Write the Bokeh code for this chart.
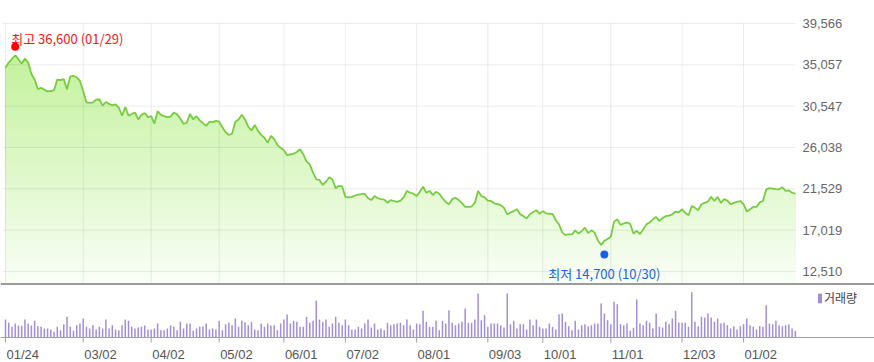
import numpy as np
from bokeh.plotting import figure
from bokeh.models import Range1d, Span, Legend, LegendItem
from bokeh.core.properties import value
from bokeh.embed import file_html
from bokeh.resources import INLINE

# ---------------- data ----------------
price = [
    34750, 35300, 35700, 36100, 35650, 35200, 35750, 35300, 34050, 33450,
    32400, 32550, 32350, 32150, 32200, 32300, 33450, 33400, 33500, 32400,
    33800, 33850, 33700, 33300, 32200, 30950, 30900, 30950, 31250, 31300,
    30600, 31000, 30800, 30650, 30750, 30400, 29500, 30450, 29500, 29700,
    29850, 29100, 29600, 29800, 29350, 29450, 28650, 30000, 29600, 29450,
    29350, 29400, 29850, 29650, 29200, 28600, 28750, 29700, 29100, 29450,
    29000, 28700, 28400, 28850, 28800, 28950, 28850, 28250, 27700, 27400,
    27550, 28850, 29100, 29600, 29100, 28300, 27900, 28500, 27850, 27400,
    27100, 26550, 27300, 26950, 26300, 26000, 25750, 25200, 25300, 25350,
    25550, 25850, 25300, 24500, 24200, 23300, 22550, 22500, 21950, 22300,
    22800, 22550, 21600, 21850, 21800, 20650, 20600, 20650, 20800, 20900,
    20950, 21000, 20500, 20300, 20750, 20500, 20400, 20350, 20000, 20300,
    20200, 20100, 20250, 20600, 21300, 21100, 21000, 20750, 21200, 21750,
    21100, 21300, 20850, 21200, 21000, 20500, 20100, 19850, 20400, 20550,
    20300, 20000, 19550, 19550, 19600, 20000, 21300, 20750, 20600, 20250,
    20200, 19950, 19850, 19750, 19450, 18750, 18950, 19100, 19300, 18750,
    18550, 18300, 18750, 19000, 19200, 18800, 19100, 18850, 18800, 18800,
    18100, 17650, 16750, 16500, 16550, 16550, 17000, 16650, 16900, 17300,
    16700, 17000, 16750, 15900, 15400, 15850, 16050, 16300, 17950, 18200,
    17600, 17750, 17850, 17700, 16650, 16950, 16600, 17100, 17650, 17850,
    18200, 18450, 18000, 18350, 18550, 18600, 18750, 19050, 18950, 19300,
    18900, 18650, 19650, 19450, 19200, 19850, 20000, 20150, 20650, 20200,
    20650, 20000, 20400, 20250, 19850, 20000, 20100, 20200, 19850, 19050,
    19300, 19550, 19550, 20050, 20200, 21450, 21600, 21550, 21500, 21480,
    21700, 21300, 21350, 21100, 21000,
]

# volume (thousand shares)
volume = [
    360, 294, 214, 280, 240, 234, 360, 280, 240, 334,
    226, 214, 180, 180, 160, 114, 214, 146, 260, 414,
    214, 134, 246, 280, 380, 214, 180, 246, 160, 214,
    180, 360, 180, 246, 160, 146, 246, 360, 334, 214,
    180, 200, 214, 240, 160, 160, 180, 280, 146, 146,
    180, 246, 214, 146, 314, 180, 280, 280, 134, 180,
    214, 220, 280, 160, 180, 160, 334, 146, 266, 294,
    246, 380, 214, 334, 306, 246, 314, 160, 146, 280,
    214, 280, 240, 246, 146, 280, 360, 460, 280, 334,
    314, 214, 214, 414, 294, 334, 734, 360, 314, 360,
    214, 280, 414, 294, 246, 360, 246, 160, 160, 214,
    180, 280, 360, 200, 280, 160, 180, 146, 294, 246,
    266, 280, 294, 246, 360, 246, 160, 280, 266, 534,
    314, 214,
    214, 334, 146, 334, 280, 546, 294, 246, 280, 314,
    580, 294, 294, 360, 880, 346, 446, 214, 280, 280,
    280, 246, 200, 880, 266, 334, 180, 266, 266, 160,
    360, 246, 360, 214, 180, 180, 280, 214, 160, 466,
    480, 314, 226, 146, 334, 160, 246, 266, 226, 246,
    280, 280, 680, 480, 346, 266, 714, 666, 266, 246,
    280, 134, 194, 760, 280, 246, 334, 294, 180, 480,
    214, 200, 314, 266, 380, 534, 294, 294, 294, 214,
    906, 314, 226, 414, 400, 480, 400, 314, 380, 280,
    294, 246, 180, 226, 160, 226, 266, 380, 246, 214,
    160, 226, 214, 646, 280, 266, 334, 246, 226, 246,
    266, 180, 134,
]

date_idx = [0, 24, 45, 66, 86, 105, 127, 149, 166, 187, 209, 228]
date_labels = ["01/24", "03/02", "04/02", "05/02", "06/01", "07/02",
               "08/01", "09/03", "10/01", "11/01", "12/03", "01/02"]
price_ticks = [12510, 17019, 21529, 26038, 30547, 35057, 39566]

hi_idx, hi_value, hi_date = 3, 36600, "01/29"
lo_idx, lo_value, lo_date = 185, 14700, "10/30"

# ---------------- layout constants (screen geometry) ----------------
FONT = "Liberation Sans"
KFONT = "Noto Sans CJK KR"
W, H = 874, 362
PX0 = 5.0            # screen x of the first trading day
S = 3.237            # px per trading day
PRICE_RIGHT = (795 - PX0) / S     # right edge of the price panel, in day units
GRID_LEFT = (2 - PX0) / S

P_TOP_PX = 23        # screen y of top price tick
P_BOT_PX = 283       # screen y of price panel bottom
YPP = 109.1          # price units per px
Y_TOP = price_ticks[-1]
Y_BOT = Y_TOP - (P_BOT_PX - P_TOP_PX) * YPP

V_BASE_PX = 337      # screen y of volume baseline
VPP = 20             # volume units per px

LINE = "#77cc3f"
VOL = "#a28dd8"
GRID = "#000000"

idx = np.arange(len(price))
price_arr = np.array(price, dtype=float)

p = figure(width=W, height=H, output_backend="svg", toolbar_location=None,
           x_range=Range1d(-PX0 / S, (W - PX0) / S),
           y_range=Range1d(Y_TOP - (H - P_TOP_PX) * YPP, Y_TOP + P_TOP_PX * YPP),
           x_axis_location=None, y_axis_location=None,
           min_border_left=0, min_border_right=0, min_border_top=0, min_border_bottom=0,
           outline_line_color=None)
p.extra_y_ranges = {"vol": Range1d(-(H - V_BASE_PX) * VPP, V_BASE_PX * VPP)}
for g in p.xgrid + p.ygrid:
    g.visible = False

# gradient fill under the price line
top_rgb = np.array([188, 240, 145], dtype=float)
bot_rgb = np.array([250, 254, 247], dtype=float)
for t in np.linspace(Y_TOP, Y_BOT, 70, endpoint=False):
    f = (t - Y_BOT) / (Y_TOP - Y_BOT)
    c = bot_rgb + (top_rgb - bot_rgb) * f
    col = "#%02x%02x%02x" % tuple(int(round(v)) for v in c)
    p.varea(x=idx, y1=Y_BOT, y2=np.minimum(price_arr, t), fill_color=col, level="image")

# grid lines of the price panel
p.segment(x0=GRID_LEFT, y0=price_ticks, x1=PRICE_RIGHT, y1=price_ticks,
          line_color=GRID, line_alpha=0.075, line_width=1)
p.segment(x0=date_idx, y0=Y_BOT, x1=date_idx, y1=Y_TOP,
          line_color=GRID, line_alpha=0.075, line_width=1)

# price line
p.line(idx, price, line_color=LINE, line_width=1.8)

# price tick labels (right side)
p.text(x=PRICE_RIGHT, y=price_ticks, text=[f"{v:,}" for v in price_ticks],
       x_offset=7, text_align="left", text_baseline="middle", text_color="#666666",
       text_font=value(FONT), text_font_size="13px")

# high / low markers
p.scatter([hi_idx], [hi_value + 4 * YPP], size=8, fill_color="#ff0000", line_color=None)
p.text([hi_idx], [hi_value], text=[f"최고 {hi_value:,} ({hi_date})"],
       x_offset=-4, y_offset=-12.5, text_align="left", text_baseline="alphabetic",
       text_color="#f01818", text_font=value(KFONT), text_font_size="13px")
p.scatter([lo_idx], [lo_value - 3 * YPP], size=8, fill_color="#1763e6", line_color=None)
p.text([lo_idx], [lo_value], text=[f"최저 {lo_value:,} ({lo_date})"],
       x_offset=0, y_offset=22, text_align="center", text_baseline="alphabetic",
       text_color="#1a66d9", text_font=value(KFONT), text_font_size="13px")

# separator under the price panel
p.add_layout(Span(location=Y_BOT - 0.5 * YPP, dimension="width",
                  line_color="#9b9b9b", line_width=2))

# volume bars
vb = p.vbar(x=idx, top=volume, bottom=0, width=0.46, fill_color=VOL, line_color=None,
            y_range_name="vol")

# volume baseline + date ticks + date labels
p.add_layout(Span(location=0, dimension="width", y_range_name="vol",
                  line_color="#a0a0a0", line_width=1))
p.segment(x0=date_idx, y0=0, x1=date_idx, y1=-5 * VPP, y_range_name="vol",
          line_color="#a0a0a0", line_width=1)
p.text(x=date_idx, y=0, text=date_labels, x_offset=1, y_offset=9, y_range_name="vol",
       text_align="left", text_baseline="top", text_color="#555555",
       text_font=value(FONT), text_font_size="13px")

legend = Legend(items=[LegendItem(label="거래량", renderers=[vb])], location=(817, 56),
                glyph_width=5, glyph_height=12, label_standoff=2, padding=0, margin=0,
                spacing=0, label_height=12, border_line_color=None,
                background_fill_alpha=0, label_text_font=KFONT,
                label_text_font_size="12px", label_text_color="#444444")
p.add_layout(legend)

open("out.html", "w").write(file_html(p, INLINE))
